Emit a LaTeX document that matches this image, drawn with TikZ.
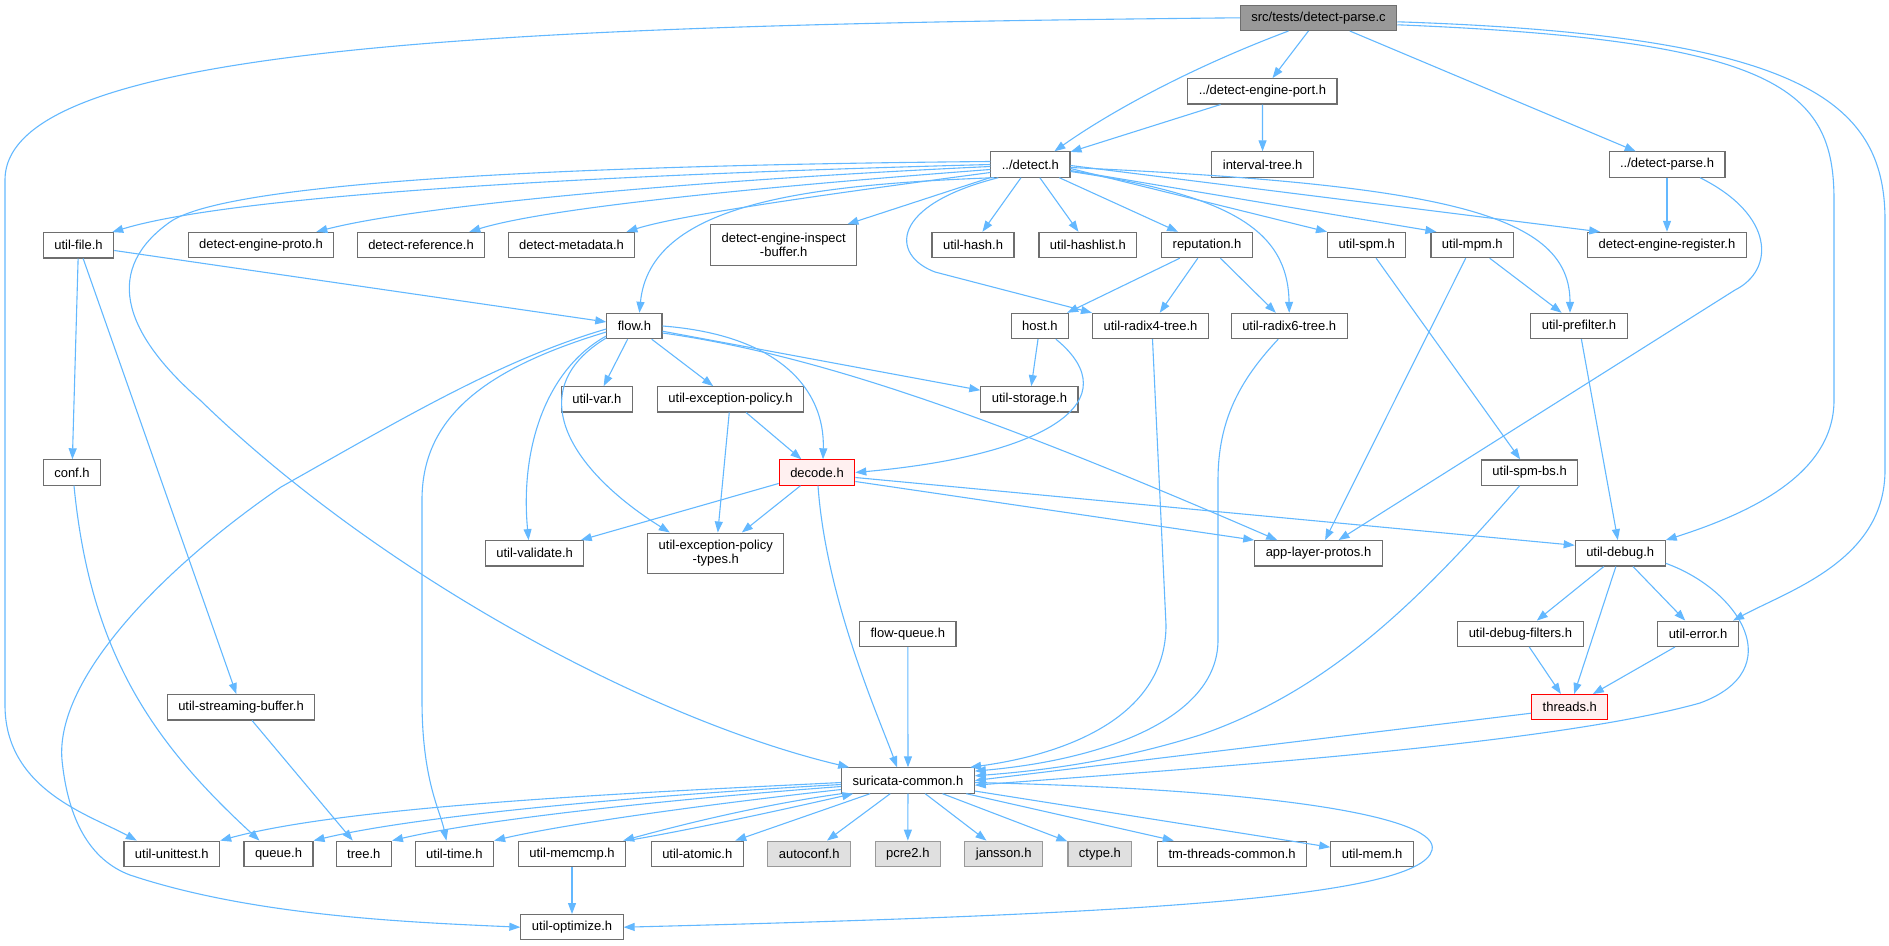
\documentclass[tikz,border=0pt]{standalone}
\usepackage{fontspec}
\setmainfont{Liberation Sans}
\usetikzlibrary{arrows.meta}
\definecolor{edgeblue}{HTML}{63B8FF}
\definecolor{boxgrey}{HTML}{6E6E6E}
\definecolor{rootfill}{HTML}{999999}
\definecolor{hotfill}{HTML}{FFF0F0}
\definecolor{sysfill}{HTML}{E0E0E0}
\definecolor{sysline}{HTML}{999999}
\tikzset{%
  incl/.style = {-{Triangle[length=11pt,width=8pt]},draw=edgeblue,
        line width=1.1pt},
  hdr/.style = {rectangle,draw=boxgrey,fill=white,line width=1.1pt,
        minimum height=25.3pt,inner xsep=11pt,inner ysep=2pt,
        font=\fontsize{13}{14}\selectfont},
  hdrtwo/.style = {hdr,align=center,minimum height=40.5pt},
  rootfile/.style = {hdr,fill=rootfill},
  hothdr/.style = {hdr,draw=red,fill=hotfill},
  syshdr/.style = {hdr,draw=sysline,fill=sysfill}
}
\begin{document}
\begin{tikzpicture}[x=1pt,y=-1pt]
\useasboundingbox (0,0) rectangle (1889,945);
\node[rootfile] (src) at (1318.5,17.8) {src/tests/detect-parse.c};
\node[hdr] (port) at (1262.4,91.3) {../detect-engine-port.h};
\node[hdr] (detect) at (1030.4,164.5) {../detect.h};
\node[hdr] (itree) at (1262.6,164.5) {interval-tree.h};
\node[hdr] (dparse) at (1667,164.5) {../detect-parse.h};
\node[hdr] (ufile) at (78.5,245.3) {util-file.h};
\node[hdr] (deproto) at (261,245) {detect-engine-proto.h};
\node[hdr] (dref) at (421,245) {detect-reference.h};
\node[hdr] (dmeta) at (571.5,245) {detect-metadata.h};
\node[hdrtwo] (dinsp) at (783.7,245) {detect-engine-inspect\\-buffer.h};
\node[hdr] (uhash) at (973,245) {util-hash.h};
\node[hdr] (uhashl) at (1087.9,245) {util-hashlist.h};
\node[hdr] (rep) at (1207,245) {reputation.h};
\node[hdr] (uspm) at (1366.7,245) {util-spm.h};
\node[hdr] (umpm) at (1472.3,245) {util-mpm.h};
\node[hdr] (dereg) at (1667,245) {detect-engine-register.h};
\node[hdr] (flow) at (634.4,326) {flow.h};
\node[hdr] (host) at (1039.9,326) {host.h};
\node[hdr] (rad4) at (1150.5,326) {util-radix4-tree.h};
\node[hdr] (rad6) at (1289.2,326) {util-radix6-tree.h};
\node[hdr] (upref) at (1579,326) {util-prefilter.h};
\node[hdr] (uvar) at (596.9,399.3) {util-var.h};
\node[hdr] (uexc) at (730.5,399.3) {util-exception-policy.h};
\node[hdr] (ustor) at (1029.4,399.3) {util-storage.h};
\node[hdr] (conf) at (72,472.5) {conf.h};
\node[hothdr] (decode) at (817,472.5) {decode.h};
\node[hdr] (spmbs) at (1529.6,472.6) {util-spm-bs.h};
\node[hdr] (uvalid) at (534.6,553.3) {util-validate.h};
\node[hdrtwo] (uexct) at (715.8,553.3) {util-exception-policy\\-types.h};
\node[hdr] (alp) at (1318.5,553.3) {app-layer-protos.h};
\node[hdr] (udebug) at (1620.2,553.3) {util-debug.h};
\node[hdr] (fqueue) at (907.8,633.8) {flow-queue.h};
\node[hdr] (udbgf) at (1520.4,633.8) {util-debug-filters.h};
\node[hdr] (uerr) at (1698,633.8) {util-error.h};
\node[hdr] (usbuf) at (241,707.3) {util-streaming-buffer.h};
\node[hothdr] (threads) at (1569.8,707.2) {threads.h};
\node[hdr] (suri) at (908,780.5) {suricata-common.h};
\node[hdr] (uunit) at (171.8,853.8) {util-unittest.h};
\node[hdr] (queue) at (278.5,853.8) {queue.h};
\node[hdr] (tree) at (363.8,853.8) {tree.h};
\node[hdr] (utime) at (454.4,853.8) {util-time.h};
\node[hdr] (umemcmp) at (572,853.8) {util-memcmp.h};
\node[hdr] (uatom) at (697.3,853.8) {util-atomic.h};
\node[syshdr] (autoconf) at (809.2,853.8) {autoconf.h};
\node[syshdr] (pcre) at (907.8,853.8) {pcre2.h};
\node[syshdr] (jansson) at (1003.7,853.8) {jansson.h};
\node[syshdr] (ctype) at (1099.9,853.8) {ctype.h};
\node[hdr] (tmthr) at (1232.1,853.8) {tm-threads-common.h};
\node[hdr] (umem) at (1372.1,853.8) {util-mem.h};
\node[hdr] (uopt) at (572,927.2) {util-optimize.h};

\draw[incl] ([xshift=-30pt]src.south) .. controls (1190,68) and (1110,112) .. ([xshift=24pt]detect.north);
\draw[incl] (src) -- (port);
\draw[incl] (src) -- (dparse);
\draw[incl] (src.west) .. controls (500,25) and (5,45) .. (5,180) -- (5,705)
    .. controls (5,790) and (90,815) .. ([xshift=-35pt]uunit.north);
\draw[incl] ([yshift=-7pt]src.east) .. controls (1780,40) and (1834,90) .. (1834,200) -- (1834,400)
    .. controls (1834,470) and (1760,510) .. (udebug.north east);
\draw[incl] ([yshift=-4pt]src.east) .. controls (1800,35) and (1885,100) .. (1885,220) -- (1885,470)
    .. controls (1885,560) and (1790,590) .. ([xshift=35pt]uerr.north);
\draw[incl] (port) -- (detect);
\draw[incl] (port) -- (itree);
\draw[incl] (dparse) -- (dereg);
\draw[incl] ([xshift=33pt]dparse.south) .. controls (1775,215) and (1775,270) .. (1735,290)
    -- ([xshift=20pt]alp.north);

\draw[incl] (detect.west) .. controls (700,172) and (250,190) .. ([xshift=-2pt]ufile.north east);
\draw[incl] ([yshift=-2pt]detect.west) .. controls (700,180) and (420,205) .. ([xshift=-18pt]deproto.north east);
\draw[incl] ([yshift=-5pt]detect.west) .. controls (720,190) and (540,210) .. ([xshift=-16pt]dref.north east);
\draw[incl] ([yshift=-8pt]detect.west) .. controls (820,195) and (680,215) .. ([xshift=-9pt]dmeta.north east);
\draw[incl] (detect) -- (dinsp);
\draw[incl] (detect) -- (uhash);
\draw[incl] (detect) -- (uhashl);
\draw[incl] (detect) -- (rep);
\draw[incl] ([yshift=-4pt]detect.east) -- (uspm.north west);
\draw[incl] ([yshift=-6pt]detect.east) -- ([xshift=6pt]umpm.north west);
\draw[incl] ([yshift=-1pt]detect.east) -- ([xshift=13pt]dereg.north west);
\draw[incl] ([yshift=-3pt]detect.east) .. controls (1450,185) and (1570,215) .. ([xshift=-9pt]upref.north);
\draw[incl] ([yshift=-7pt]detect.east) .. controls (1230,195) and (1288,230) .. (rad6.north);
\draw[incl] ([xshift=8pt]detect.south west) .. controls (890,205) and (890,255) .. (935,272)
    -- (rad4.north west);
\draw[incl] ([xshift=4pt]detect.south west) .. controls (800,185) and (650,205) .. ([xshift=5pt]flow.north);
\draw[incl] ([yshift=3pt]detect.west) .. controls (600,165) and (230,180) .. (170,222)
    .. controls (105,268) and (120,330) .. (200,400)
    .. controls (380,575) and (650,720) .. ([xshift=8pt]suri.north west);

\draw[incl] (rep) -- (host);
\draw[incl] (rep) -- (rad4);
\draw[incl] (rep) -- (rad6);
\draw[incl] (uspm) -- (spmbs);
\draw[incl] (umpm) -- (alp);
\draw[incl] (umpm) -- (upref);
\draw[incl] (upref) -- (udebug);
\draw[incl] ([xshift=2pt]rad4.south) -- (1166,625) .. controls (1166,720) and (1060,755) .. (suri.12);
\draw[incl] ([xshift=-11pt]rad6.south) .. controls (1240,380) and (1218,420) .. (1218,480) -- (1218,640)
    .. controls (1218,720) and (1100,760) .. (suri.8);
\draw[incl] ([xshift=-10pt]spmbs.south) .. controls (1420,600) and (1330,690) .. (1200,735)
    .. controls (1120,760) and (1050,770) .. (suri.4);
\draw[incl] ([yshift=-6pt]threads.west) -- (suri.0);
\draw[incl] ([yshift=-10pt]udebug.east) .. controls (1740,590) and (1790,670) .. (1700,703)
    .. controls (1550,745) and (1200,768) .. (suri.-4);
\draw[incl] (fqueue) -- (suri);
\draw[incl] ([xshift=1pt]decode.south) .. controls (826,600) and (880,720) .. ([xshift=-11pt]suri.north);

\draw[incl] (ufile) -- (flow);
\draw[incl] (ufile) -- (conf);
\draw[incl] (ufile) -- (usbuf);
\draw[incl] ([xshift=2pt]conf.south) .. controls (90,650) and (150,740) .. ([xshift=-19pt]queue.north);
\draw[incl] (usbuf) -- (tree);

\draw[incl] (flow) -- (uvar);
\draw[incl] (flow) -- (uexc);
\draw[incl] (flow.east) .. controls (780,335) and (825,390) .. ([xshift=6pt]decode.north);
\draw[incl] (flow) -- (ustor);
\draw[incl] ([yshift=-7pt]flow.east) .. controls (820,355) and (1000,420) .. ([xshift=23pt]alp.north west);
\draw[incl] ([yshift=-10pt]flow.west) .. controls (545,370) and (520,450) .. ([xshift=-6pt]uvalid.north);
\draw[incl] ([yshift=-12pt]flow.west) .. controls (520,390) and (570,470) .. ([xshift=-46pt]uexct.north);
\draw[incl] ([yshift=-6pt]flow.west) .. controls (480,370) and (422,420) .. (422,500) -- (422,700)
    .. controls (422,780) and (440,810) .. ([xshift=-8pt]utime.north);
\draw[incl] ([yshift=-3pt]flow.west) .. controls (500,360) and (400,420) .. (281,487)
    .. controls (160,570) and (55,680) .. (62,760)
    .. controls (68,820) and (90,860) .. (130,875)
    .. controls (250,915) and (400,922) .. (uopt.west);

\draw[incl] (uexc) -- (decode);
\draw[incl] (uexc) -- (uexct);
\draw[incl] (host) -- (ustor);
\draw[incl] ([xshift=16pt]host.south) .. controls (1130,400) and (1050,455) .. (decode.east);
\draw[incl] (decode) -- (uvalid);
\draw[incl] (decode) -- (uexct);
\draw[incl] ([yshift=-9pt]decode.east) -- (alp.north west);
\draw[incl] ([yshift=-5pt]decode.east) -- (udebug.170);
\draw[incl] (udebug) -- (udbgf);
\draw[incl] (udebug) -- (threads);
\draw[incl] (udebug) -- (uerr);
\draw[incl] (udbgf) -- (threads);
\draw[incl] (uerr) -- (threads);

\draw[incl] ([yshift=-2pt]suri.west) .. controls (650,792) and (350,805) .. (uunit.north east);
\draw[incl] ([yshift=-4pt]suri.west) .. controls (650,795) and (420,815) .. (queue.north east);
\draw[incl] ([yshift=-6pt]suri.west) .. controls (660,800) and (480,820) .. (tree.north east);
\draw[incl] ([yshift=-9pt]suri.west) .. controls (700,805) and (560,825) .. (utime.north east);
\draw[incl] (suri.south west) .. controls (760,805) and (680,825) .. ([xshift=-3pt]umemcmp.north east);
\draw[incl] ([xshift=1pt]umemcmp.north east) .. controls (700,828) and (790,808) .. ([xshift=12pt]suri.south west);
\draw[incl] (suri) -- (uatom);
\draw[incl] (suri) -- (autoconf);
\draw[incl] (suri) -- (pcre);
\draw[incl] (suri) -- (jansson);
\draw[incl] (suri) -- (ctype);
\draw[incl] (suri) -- (tmthr);
\draw[incl] (suri) -- (umem);
\draw[incl] ([yshift=-2pt]suri.east) .. controls (1300,790) and (1440,820) .. (1432,850)
    .. controls (1420,900) and (1100,915) .. (uopt.east);
\draw[incl] (umemcmp) -- (uopt);
\end{tikzpicture}
\end{document}
